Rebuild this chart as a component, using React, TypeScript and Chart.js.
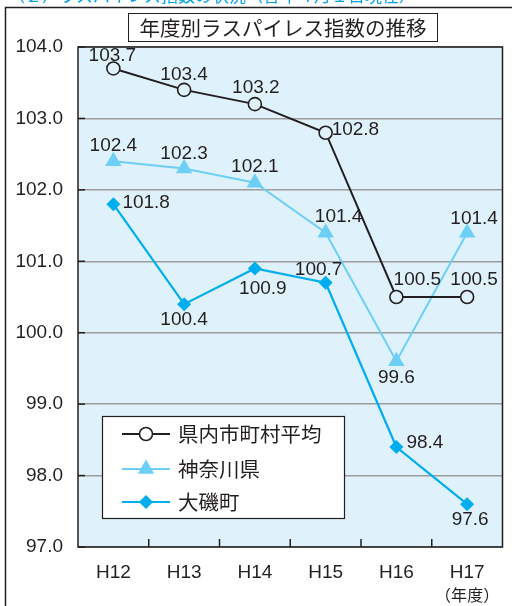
import React, { useEffect, useRef } from "react";
import { Chart, registerables } from "chart.js";
import { drawPoint } from "chart.js/helpers";

Chart.register(...registerables);

// ---- data ----
const categories = ["H12", "H13", "H14", "H15", "H16", "H17"];
const yearUnit = "（年度）";
const seriesNames = ["県内市町村平均", "神奈川県", "大磯町"];
const prefMunicipalAvg = [103.7, 103.4, 103.2, 102.8, 100.5, 100.5];
const kanagawaPref = [102.4, 102.3, 102.1, 101.4, 99.6, 101.4];
const oisoTown = [101.8, 100.4, 100.9, 100.7, 98.4, 97.6];
const yMin = 97;
const yMax = 104;
const yStep = 1;
const chartTitle = "年度別ラスパイレス指数の推移";
const headerText = "（２）ラスパイレス指数の状況（各年４月１日現在）";

// ---- styling ----
const INK = "#231f20";
const PLOT_BG = "#dff1fb";
const NUM_FONT = '"Liberation Sans", Arial, sans-serif';
const JP_FONT = '"Noto Sans CJK JP", sans-serif';

// label offsets [dx, dy, align] per dataset / point
const labelPlacement: [number, number, CanvasTextAlign][][] = [
  [[-1, -13, "center"], [0, -15, "center"], [1, -16, "center"], [6, -3, "left"], [21, -17, "center"], [7, -17, "center"]],
  [[0, -16, "center"], [0, -15, "center"], [0, -16, "center"], [13, -16, "center"], [0, 16, "center"], [7, -14, "center"]],
  [[9, -1, "left"], [0, 16, "center"], [8, 20, "center"], [-7, -13, "center"], [10, -4, "left"], [3, 16, "center"]],
];

const decorPlugin = {
  id: "decor",
  beforeDraw(chart: any) {
    const { ctx, chartArea: a } = chart;
    ctx.save();
    ctx.fillStyle = PLOT_BG;
    ctx.fillRect(a.left, a.top, a.right - a.left, a.bottom - a.top);
    ctx.restore();
  },
  afterDatasetsDraw(chart: any) {
    const { ctx, chartArea: a, scales } = chart;
    ctx.save();
    // plot border
    ctx.strokeStyle = INK;
    ctx.lineWidth = 1.5;
    ctx.strokeRect(a.left, a.top, a.right - a.left, a.bottom - a.top);
    // y tick marks (inside)
    for (let v = yMin; v <= yMax; v += yStep) {
      const y = scales.y.getPixelForValue(v);
      ctx.beginPath();
      ctx.moveTo(a.left, y);
      ctx.lineTo(a.left + 7, y);
      ctx.stroke();
    }
    // x tick marks at category boundaries (inside)
    for (let i = 0; i < categories.length - 1; i++) {
      const x = (scales.x.getPixelForValue(i) + scales.x.getPixelForValue(i + 1)) / 2;
      ctx.beginPath();
      ctx.moveTo(x, a.bottom);
      ctx.lineTo(x, a.bottom - 8);
      ctx.stroke();
    }
    // data labels
    ctx.fillStyle = INK;
    ctx.font = `19px ${NUM_FONT}`;
    ctx.textBaseline = "middle";
    chart.data.datasets.forEach((ds: any, di: number) => {
      const meta = chart.getDatasetMeta(di);
      meta.data.forEach((pt: any, i: number) => {
        const [dx, dy, align] = labelPlacement[di][i];
        ctx.textAlign = align;
        ctx.fillText(ds.data[i].toFixed(1), pt.x + dx, pt.y + dy);
      });
    });
    ctx.restore();
  },
  afterDraw(chart: any) {
    const { ctx, scales } = chart;
    ctx.save();
    // outer frame
    ctx.strokeStyle = INK;
    ctx.lineWidth = 1.5;
    ctx.beginPath();
    ctx.moveTo(5.5, 606);
    ctx.lineTo(5.5, 7.5);
    ctx.lineTo(512, 7.5);
    ctx.stroke();
    // header fragment (clipped)
    ctx.save();
    ctx.beginPath();
    ctx.rect(0, 0, 512, 5);
    ctx.clip();
    ctx.fillStyle = "#00a0e9";
    ctx.font = `17px ${JP_FONT}`;
    ctx.textAlign = "left";
    ctx.textBaseline = "alphabetic";
    ctx.fillText(headerText, 8, 2);
    ctx.restore();
    // title box
    ctx.fillStyle = "#ffffff";
    ctx.fillRect(128.5, 13.5, 309, 28);
    ctx.strokeStyle = INK;
    ctx.lineWidth = 1;
    ctx.strokeRect(128.5, 13.5, 309, 28);
    ctx.fillStyle = INK;
    ctx.font = `20.5px ${JP_FONT}`;
    ctx.textAlign = "center";
    ctx.textBaseline = "middle";
    ctx.fillText(chartTitle, 283, 28);
    // year unit under last category
    ctx.font = `16px ${JP_FONT}`;
    ctx.fillText(yearUnit, scales.x.getPixelForValue(categories.length - 1), 595);
    // legend
    const lx = 102.5, ly = 416.5, lw = 242, lh = 102;
    ctx.fillStyle = "#ffffff";
    ctx.fillRect(lx, ly, lw, lh);
    ctx.strokeStyle = INK;
    ctx.lineWidth = 1.2;
    ctx.strokeRect(lx, ly, lw, lh);
    const rowsY = [434, 469, 502];
    chart.data.datasets.forEach((ds: any, di: number) => {
      const y = rowsY[di];
      ctx.strokeStyle = ds.borderColor;
      ctx.lineWidth = ds.borderWidth;
      ctx.beginPath();
      ctx.moveTo(122, y);
      ctx.lineTo(170, y);
      ctx.stroke();
      ctx.fillStyle = di === 0 ? "#ffffff" : ds.pointBackgroundColor;
      ctx.strokeStyle = ds.pointBorderColor;
      ctx.lineWidth = ds.pointBorderWidth;
      drawPoint(ctx, { pointStyle: ds.pointStyle, rotation: 0, radius: ds.pointRadius, borderWidth: ds.pointBorderWidth } as any, 146, y);
      ctx.fillStyle = INK;
      ctx.font = `20.5px ${JP_FONT}`;
      ctx.textAlign = "left";
      ctx.textBaseline = "middle";
      ctx.fillText(ds.label, 178, y);
    });
    ctx.restore();
  },
};

export default function App() {
  const ref = useRef<HTMLCanvasElement>(null);
  useEffect(() => {
    if (!ref.current) return;
    const chart = new Chart(ref.current, {
      type: "line",
      data: {
        labels: categories,
        datasets: [
          {
            label: seriesNames[0],
            data: prefMunicipalAvg,
            borderColor: INK,
            borderWidth: 2,
            pointStyle: "circle",
            pointRadius: 6.5,
            pointBackgroundColor: PLOT_BG,
            pointBorderColor: INK,
            pointBorderWidth: 1.6,
          },
          {
            label: seriesNames[1],
            data: kanagawaPref,
            borderColor: "#6dcff6",
            borderWidth: 2,
            pointStyle: "triangle",
            pointRadius: 9.5,
            pointBackgroundColor: "#6dcff6",
            pointBorderColor: "#6dcff6",
            pointBorderWidth: 0,
          },
          {
            label: seriesNames[2],
            data: oisoTown,
            borderColor: "#00aeef",
            borderWidth: 2.2,
            pointStyle: "rectRot",
            pointRadius: 7,
            pointBackgroundColor: "#00aeef",
            pointBorderColor: "#00aeef",
            pointBorderWidth: 0,
          },
        ] as any,
      },
      options: {
        animation: false,
        responsive: false,
        devicePixelRatio: 1,
        layout: { padding: { top: 47, right: 7, bottom: 0, left: 0 } },
        plugins: { legend: { display: false }, title: { display: false }, tooltip: { enabled: false } },
        scales: {
          x: {
            type: "category",
            offset: true,
            grid: { display: false, drawTicks: false },
            border: { display: false },
            ticks: { color: INK, font: { size: 19, family: NUM_FONT }, padding: 14, maxRotation: 0 },
            afterFit: (s: any) => { s.height = 59; },
          },
          y: {
            min: yMin,
            max: yMax,
            grid: { color: "#9c9c9c", lineWidth: 1.5, drawTicks: false },
            border: { display: false },
            ticks: {
              stepSize: yStep,
              color: INK,
              font: { size: 19, family: NUM_FONT },
              padding: 15,
              callback: (v: any) => Number(v).toFixed(1),
            },
            afterFit: (s: any) => { s.width = 78; },
          },
        },
      } as any,
      plugins: [decorPlugin],
    });
    return () => chart.destroy();
  }, []);
  return (
    <div style={{ position: "absolute", left: 0, top: 0, width: 512, height: 606, background: "#ffffff" }}>
      <canvas ref={ref} width={512} height={606} style={{ width: 512, height: 606, display: "block" }} />
    </div>
  );
}
